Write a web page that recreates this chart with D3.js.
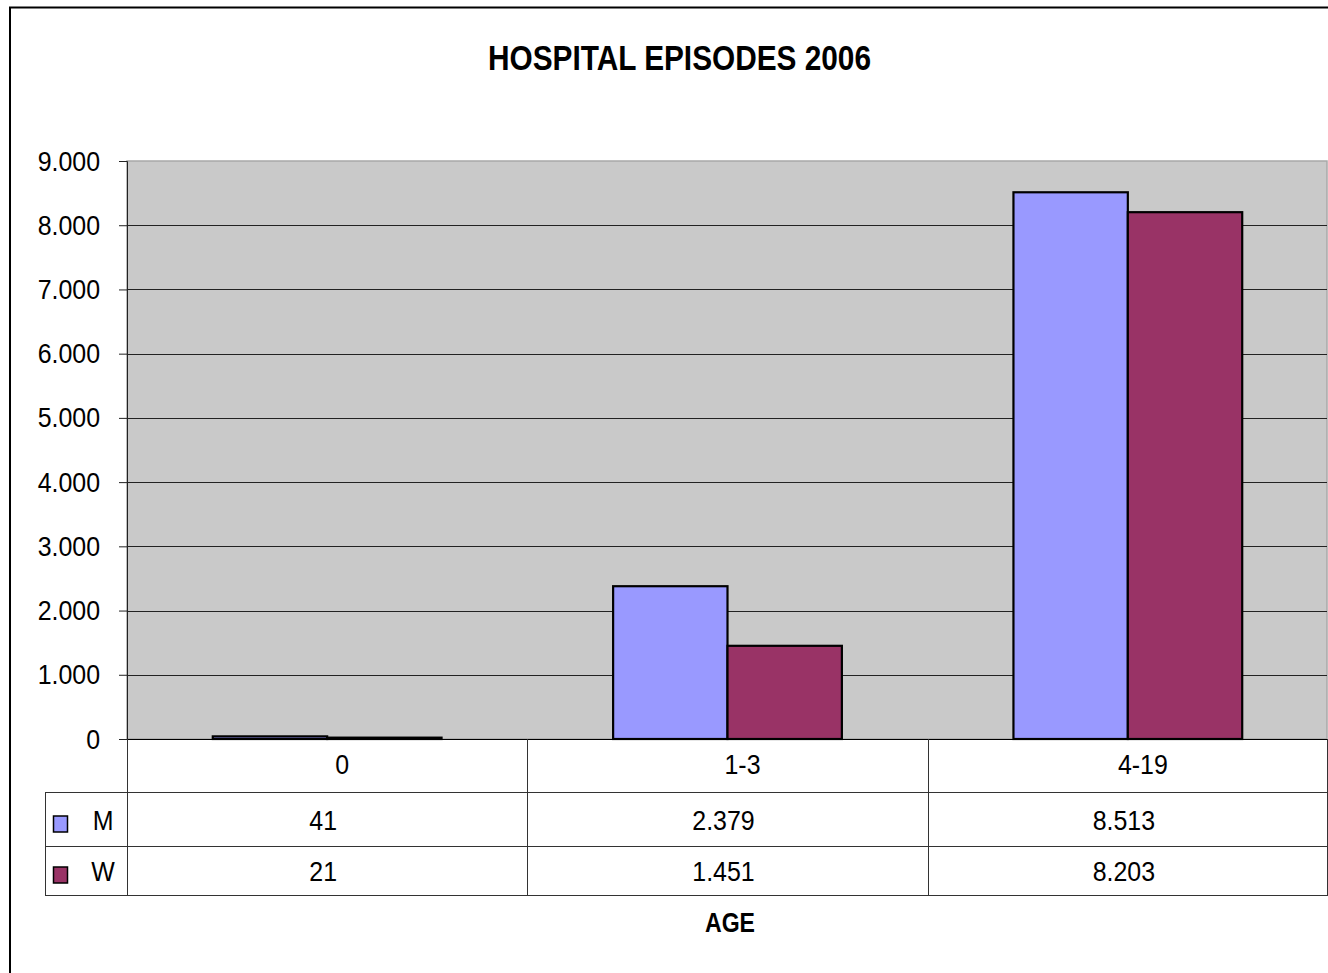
<!DOCTYPE html>
<html>
<head>
<meta charset="utf-8">
<script src="https://cdn.jsdelivr.net/npm/d3@7"></script>
<style>
  html, body { margin: 0; padding: 0; background: #fff; }
  svg { display: block; font-family: "Liberation Sans", Arial, sans-serif; }
</style>
</head>
<body>
<svg id="chart" width="1328" height="973"></svg>
<script>
// Hospital episodes 2006 by age group
const categories = ["0", "1-3", "4-19"];
const seriesNames = ["M", "W"];
const valuesM = [41, 2379, 8513];
const valuesW = [21, 1451, 8203];
const yTicks = [0, 1000, 2000, 3000, 4000, 5000, 6000, 7000, 8000, 9000];
const colors = { M: "#9999FF", W: "#993366" };
const titleText = "HOSPITAL EPISODES 2006";
const axisTitle = "AGE";

const series = [
  { name: "M", values: valuesM },
  { name: "W", values: valuesW }
];

const svg = d3.select("#chart");
const fmt = d3.formatLocale({ decimal: ",", thousands: ".", grouping: [3], currency: ["", ""] }).format(",d");

const plot = { left: 127, right: 1328, top: 161, bottom: 739 };
const FS = 28;        // body text size
const SX = 0.89;      // horizontal squeeze of the body text

// text with a narrowed face: drawn at origin of a translated/scaled group
function label(parent, x, y, txt, opts = {}) {
  const size = opts.size || FS;
  const sx = opts.sx || SX;
  return parent.append("text")
    .attr("transform", `translate(${x},${y}) scale(${sx},1)`)
    .attr("text-anchor", opts.anchor || "middle")
    .attr("font-size", size)
    .attr("font-weight", opts.weight || "normal")
    .attr("fill", "#000")
    .text(txt);
}

// chart frame
svg.append("rect")
  .attr("x", 10).attr("y", 7.5)
  .attr("width", 1340).attr("height", 1000)
  .attr("fill", "#fff").attr("stroke", "#000").attr("stroke-width", 2);

const x0 = d3.scaleBand().domain(categories).range([plot.left, plot.right]).paddingInner(0).paddingOuter(0);
const x1 = d3.scaleBand().domain(seriesNames).range([0, x0.bandwidth()]).paddingInner(0).paddingOuter(0.75);
const y = d3.scaleLinear().domain([0, 9000]).range([plot.bottom, plot.top]);

// plot area
svg.append("rect")
  .attr("x", plot.left).attr("y", plot.top)
  .attr("width", plot.right - 1 - plot.left).attr("height", plot.bottom - plot.top)
  .attr("fill", "#C9C9C9").attr("stroke", "#A8A8A8").attr("stroke-width", 1.5);

// gridlines
svg.append("g")
  .selectAll("line")
  .data(yTicks.filter(d => d > 0 && d < 9000))
  .join("line")
  .attr("x1", plot.left).attr("x2", plot.right - 1)
  .attr("y1", d => Math.round(y(d)) + 0.5).attr("y2", d => Math.round(y(d)) + 0.5)
  .attr("stroke", "#222").attr("stroke-width", 1);

// y axis
const yAxis = d3.axisLeft(y).tickValues(yTicks).tickSize(8).tickPadding(0).tickFormat(fmt);
const yg = svg.append("g").attr("transform", `translate(${plot.left},0)`).call(yAxis);
yg.select(".domain").attr("stroke", "#222");
yg.selectAll(".tick line").attr("stroke", "#222");
yg.selectAll(".tick text")
  .attr("font-size", FS).attr("fill", "#000")
  .attr("font-family", "Liberation Sans, Arial, sans-serif")
  .attr("x", null).attr("dy", null)
  .attr("y", 9)
  .attr("transform", `translate(-27,0) scale(${SX},1)`);

// bars
const groups = svg.append("g")
  .selectAll("g")
  .data(categories)
  .join("g")
  .attr("transform", d => `translate(${x0(d)},0)`);

groups.selectAll("rect")
  .data((c, i) => series.map(s => ({ name: s.name, value: s.values[i] })))
  .join("rect")
  .attr("x", d => x1(d.name))
  .attr("width", x1.bandwidth())
  .attr("y", d => y(d.value))
  .attr("height", d => y(0) - y(d.value))
  .attr("fill", d => colors[d.name])
  .attr("stroke", "#000").attr("stroke-width", 2.2);

// x axis baseline
svg.append("line")
  .attr("x1", plot.left).attr("x2", plot.right)
  .attr("y1", plot.bottom + 0.5).attr("y2", plot.bottom + 0.5)
  .attr("stroke", "#000").attr("stroke-width", 1.2);

// data table under the axis
const rowY = [plot.bottom, 792, 846, 895];
const tableLeft = 45;
const lineColor = "#333";
const tg = svg.append("g");

[1, 2, 3].forEach(r => {
  tg.append("line").attr("x1", tableLeft).attr("x2", plot.right)
    .attr("y1", rowY[r] + 0.5).attr("y2", rowY[r] + 0.5).attr("stroke", lineColor);
});
tg.append("line").attr("x1", tableLeft + 0.5).attr("x2", tableLeft + 0.5)
  .attr("y1", rowY[1]).attr("y2", rowY[3] + 1).attr("stroke", lineColor);

const colEdges = categories.map(c => x0(c)).concat([plot.right - 1]);
tg.selectAll("line.col")
  .data(colEdges)
  .join("line")
  .attr("class", "col")
  .attr("x1", d => Math.round(d) + 0.5).attr("x2", d => Math.round(d) + 0.5)
  .attr("y1", rowY[0]).attr("y2", rowY[3] + 1)
  .attr("stroke", lineColor);

// category labels
categories.forEach(c => {
  label(tg, x0(c) + x0.bandwidth() / 2 + 15, 774, c);
});

// value rows with legend keys
const rowBase = [830, 881];
series.forEach((s, r) => {
  tg.append("rect")
    .attr("x", 53.5).attr("y", rowBase[r] - 14)
    .attr("width", 14).attr("height", 16)
    .attr("fill", colors[s.name]).attr("stroke", "#000").attr("stroke-width", 1.5);
  label(tg, 103, rowBase[r], s.name);
  s.values.forEach((v, i) => {
    label(tg, x0(categories[i]) + x0.bandwidth() / 2 - 4, rowBase[r], fmt(v));
  });
});

// titles
svg.append("text")
  .attr("x", 488).attr("y", 70)
  .attr("font-size", 35).attr("font-weight", "bold")
  .attr("textLength", 383).attr("lengthAdjust", "spacingAndGlyphs")
  .text(titleText);

svg.append("text")
  .attr("x", 705).attr("y", 932)
  .attr("font-size", 28).attr("font-weight", "bold")
  .attr("textLength", 50).attr("lengthAdjust", "spacingAndGlyphs")
  .text(axisTitle);
</script>
</body>
</html>
